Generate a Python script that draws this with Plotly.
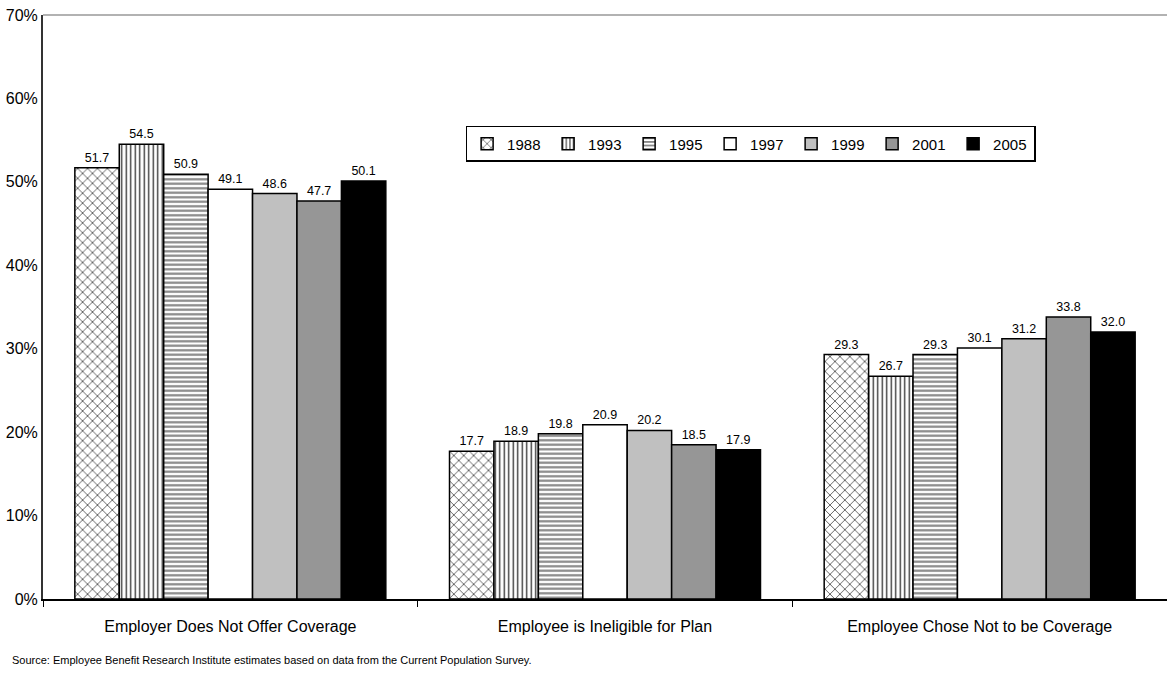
import plotly.graph_objects as go

categories = [
    "Employer Does Not Offer Coverage",
    "Employee is Ineligible for Plan",
    "Employee Chose Not to be Coverage",
]
years = ["1988", "1993", "1995", "1997", "1999", "2001", "2005"]

v1988 = [51.7, 17.7, 29.3]
v1993 = [54.5, 18.9, 26.7]
v1995 = [50.9, 19.8, 29.3]
v1997 = [49.1, 20.9, 30.1]
v1999 = [48.6, 20.2, 31.2]
v2001 = [47.7, 18.5, 33.8]
v2005 = [50.1, 17.9, 32.0]

series = [v1988, v1993, v1995, v1997, v1999, v2001, v2005]

# fill style per year: (base colour, pattern shape, pattern colour, size, solidity)
styles = [
    ("white", "x", "#333333", 7, 0.2),
    ("white", "|", "#333333", 4.5, 0.3),
    ("white", "-", "#888888", 4.5, 0.5),
    ("white", "", None, None, None),
    ("#c0c0c0", "", None, None, None),
    ("#969696", "", None, None, None),
    ("#000000", "", None, None, None),
]

FONT = "Liberation Sans, Arial, sans-serif"

fig = go.Figure()
for year, vals, (color, shape, fg, size, sol) in zip(years, series, styles):
    marker = dict(color=color, line=dict(color="black", width=1.5))
    if shape:
        marker["pattern"] = dict(shape=shape, fgcolor=fg, bgcolor="white",
                                 size=size, solidity=sol, fillmode="replace")
    fig.add_trace(go.Bar(
        name=year, x=categories, y=vals, marker=marker,
        text=[f"{v:.1f}" for v in vals], textposition="outside",
        textfont=dict(size=12.5, color="black", family=FONT),
        cliponaxis=False,
    ))

fig.update_layout(
    width=1167, height=687,
    margin=dict(l=43, r=0, t=15, b=88),
    paper_bgcolor="white", plot_bgcolor="white",
    font=dict(family=FONT, color="black"),
    barmode="group", bargap=0.17, bargroupgap=0,
    showlegend=True,
    legend=dict(
        orientation="h", x=0.376, y=0.81, xanchor="left", yanchor="top",
        bgcolor="white", bordercolor="black", borderwidth=1.5,
        font=dict(size=15, family=FONT),
        entrywidth=36, entrywidthmode="pixels", itemwidth=30,
    ),
    xaxis=dict(
        showline=True, linecolor="black", linewidth=1.5,
        ticks="outside", tickson="boundaries", ticklen=6, tickcolor="black",
        tickfont=dict(size=16, family=FONT), showgrid=False,
        ticklabelstandoff=12,
    ),
    yaxis=dict(
        range=[0, 70], dtick=10, ticksuffix="%", showgrid=False,
        showline=True, linecolor="#333333", linewidth=2, zeroline=False,
        tickfont=dict(size=16, family=FONT), ticks="",
    ),
    shapes=[dict(type="line", xref="paper", yref="paper", x0=0, x1=1, y0=1, y1=1,
                 line=dict(color="#999999", width=1.5))],
    annotations=[dict(
        text="Source: Employee Benefit Research Institute estimates based on data from the Current Population Survey.",
        xref="paper", yref="paper", x=-0.029, y=-0.105, xanchor="left", yanchor="middle",
        showarrow=False, font=dict(size=11, family=FONT),
    )],
)

fig.write_html("out.html")
